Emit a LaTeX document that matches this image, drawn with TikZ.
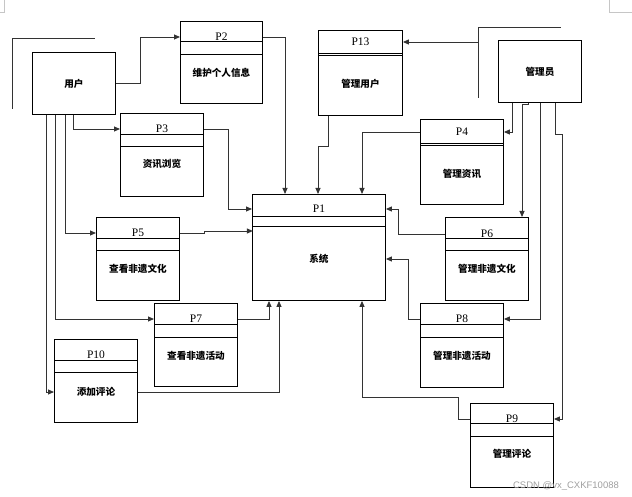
\documentclass[tikz,border=0pt]{standalone}
\usepackage{fontspec}
\setmainfont{Liberation Serif}
\newfontfamily\cjk{Noto Sans CJK SC}
\newfontfamily\wmfont{Liberation Sans}
\usetikzlibrary{arrows.meta}

\tikzset{
  ent/.style={draw,line width=0.9pt,anchor=north west,inner sep=0pt,minimum width=83pt,minimum height=62pt},
  proc/.style={draw,line width=0.9pt,anchor=north west,inner sep=0pt,minimum width=83pt,minimum height=83pt},
  ptag/.style={inner sep=0pt,font=\fontsize{11.5}{13}\selectfont},
  ptext/.style={inner sep=0pt,font=\cjk\bfseries\fontsize{9.6}{11}\selectfont},
  flow/.style={draw=black!80,line width=0.9pt,-{Triangle[length=6pt,width=5pt]}},
  bar/.style={draw=black!80,line width=0.9pt},
}

\begin{document}
\begin{tikzpicture}[x=1pt,y=-1pt]
  \useasboundingbox (0,0) rectangle (632,497);

  % external entities
  \node[ent] (user) at (32,52) {};
  \node[ptext] at (user.center) {用户};
  \node[ent] (mgr) at (498,40) {};
  \node[ptext] at (mgr.center) {管理员};
  \draw[bar] (12,109) |- (95,38);
  \draw[bar] (478,98) |- (561,27);
  \coordinate (mgrL) at (478,42);

  % processes
  \node[proc,minimum width=133pt,minimum height=106pt] (p1) at (252,194) {};
  \node[proc,minimum width=82pt,minimum height=82pt] (p2) at (180,21) {};
  \node[proc] (p3) at (120,113) {};
  \node[proc,minimum width=84pt,minimum height=85pt] (p13) at (318,30) {};
  \node[proc,minimum height=85pt] (p4) at (420,119) {};
  \node[proc] (p5) at (96,217) {};
  \node[proc] (p6) at (445,217) {};
  \node[proc] (p7) at (154,303) {};
  \node[proc,minimum height=84pt] (p8) at (420,303) {};
  \node[proc] (p10) at (54,339) {};
  \node[proc,minimum height=84pt] (p9) at (470,403) {};

  % header bars
  \draw (p1.north west) ++(0,22) -- ++(133,0) (p1.north west) ++(0,32) -- ++(133,0);
  \draw (p2.north west) ++(0,20) -- ++(82,0) (p2.north west) ++(0,33) -- ++(82,0);
  \draw (p3.north west) ++(0,21) -- ++(83,0) (p3.north west) ++(0,33) -- ++(83,0);
  \draw (p13.north west) ++(0,23) -- ++(84,0) (p13.north west) ++(0,25) -- ++(84,0);
  \draw (p4.north west) ++(0,24) -- ++(83,0) (p4.north west) ++(0,26) -- ++(83,0);
  \draw (p5.north west) ++(0,21) -- ++(83,0) (p5.north west) ++(0,33) -- ++(83,0);
  \draw (p6.north west) ++(0,21) -- ++(83,0) (p6.north west) ++(0,33) -- ++(83,0);
  \draw (p7.north west) ++(0,21) -- ++(83,0) (p7.north west) ++(0,34) -- ++(83,0);
  \draw (p8.north west) ++(0,21) -- ++(83,0) (p8.north west) ++(0,34) -- ++(83,0);
  \draw (p10.north west) ++(0,21) -- ++(83,0) (p10.north west) ++(0,33) -- ++(83,0);
  \draw (p9.north west) ++(0,20) -- ++(83,0) (p9.north west) ++(0,33) -- ++(83,0);

  % labels
  \path (p1.north) ++(0,15) node[ptag] (p1t) {P1};
  \path (p1.north) ++(0,65) node[ptext] (p1b) {系统};
  \path (p2.north) ++(0,16) node[ptag] (p2t) {P2};
  \path (p2.north) ++(0,52) node[ptext] (p2b) {维护个人信息};
  \path (p3.north) ++(0,16) node[ptag] (p3t) {P3};
  \path (p3.north) ++(0,51) node[ptext] (p3b) {资讯浏览};
  \path (p13.north) ++(0,12) node[ptag] (p13t) {P13};
  \path (p13.north) ++(0,54) node[ptext] (p13b) {管理用户};
  \path (p4.north) ++(0,13) node[ptag] (p4t) {P4};
  \path (p4.north) ++(0,55) node[ptext] (p4b) {管理资讯};
  \path (p5.north) ++(0,16) node[ptag] (p5t) {P5};
  \path (p5.north) ++(0,52) node[ptext] (p5b) {查看非遗文化};
  \path (p6.north) ++(0,17) node[ptag] (p6t) {P6};
  \path (p6.north) ++(0,52) node[ptext] (p6b) {管理非遗文化};
  \path (p7.north) ++(0,16) node[ptag] (p7t) {P7};
  \path (p7.north) ++(0,53) node[ptext] (p7b) {查看非遗活动};
  \path (p8.north) ++(0,16) node[ptag] (p8t) {P8};
  \path (p8.north) ++(0,53) node[ptext] (p8b) {管理非遗活动};
  \path (p10.north) ++(0,16) node[ptag] (p10t) {P10};
  \path (p10.north) ++(0,53) node[ptext] (p10b) {添加评论};
  \path (p9.north) ++(0,16) node[ptag] (p9t) {P9};
  \path (p9.north) ++(0,51) node[ptext] (p9b) {管理评论};

  % user side
  \draw[flow] (user.east) -- ++(25,0) |- (p2t -| p2.west);
  \draw[flow] (p2t -| p2.east) -| ([xshift=33pt]p1.north west);
  \draw[flow] ([xshift=41pt]user.south west) |- (p3t -| p3.west);
  \draw[flow] (p3t -| p3.east) -- ++(25,0) |- (p1t -| p1.west);
  \draw[flow] ([xshift=33pt]user.south west) |- (p5t -| p5.west);
  \draw[flow] (p5t -| p5.east) -- ++(25,0) -- ++(0,-2) -- ++(48,0);
  \draw[flow] ([xshift=23pt]user.south west) |- (p7t -| p7.west);
  \draw[flow] (p7t -| p7.east) -| ([xshift=17pt]p1.south west);
  \draw[flow] ([xshift=14pt]user.south west) |- (p10b -| p10.west);
  \draw[flow] (p10b -| p10.east) -| ([xshift=27pt]p1.south west);

  % manager side
  \draw[flow] (mgrL) -- (p13t -| p13.east);
  \draw[flow] ([xshift=10pt]p13.south west) -- ++(0,31) -| ([xshift=66pt]p1.north west);
  \draw[flow] ([xshift=14pt]mgr.south west) |- (p4t -| p4.east);
  \draw[flow] (p4t -| p4.west) -| ([xshift=110pt]p1.north west);
  \draw[flow] ([xshift=30pt]mgr.south west) -- ++(0,2) -| ([xshift=77pt]p6.north west);
  \draw[flow] (p6t -| p6.west) -- ++(-47,0) |- (p1t -| p1.east);
  \draw[flow] ([xshift=42pt]mgr.south west) |- (p8t -| p8.east);
  \draw[flow] (p8t -| p8.west) -- ++(-12,0) |- (p1b -| p1.east);
  \draw[flow] ([xshift=57pt]mgr.south west) -- ++(0,32) -- ++(7,0) |- (p9t -| p9.east);
  \draw[flow] (p9t -| p9.west) -- ++(-12,0) -- ++(0,-22) -| ([xshift=110pt]p1.south west);

  % page marks and watermark
  \draw[gray!45] (0,12) -- (4,12) -- (4,0);
  \draw[gray!45] (609,0) |- (632,12);
  \node[font=\wmfont\fontsize{9.5}{10}\selectfont,text=gray!75,inner sep=0pt] (wm) at (566,486) {CSDN @vx\_CXKF10088};
\end{tikzpicture}
\end{document}
